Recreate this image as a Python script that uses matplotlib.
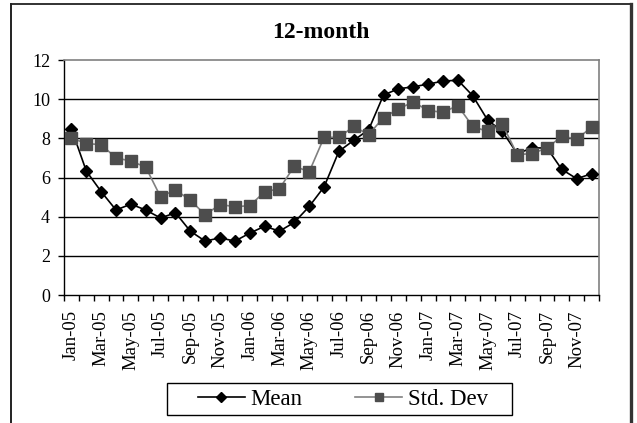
import matplotlib
matplotlib.use("Agg")
import matplotlib.pyplot as plt
from matplotlib.patches import Rectangle
from matplotlib.lines import Line2D

plt.rcParams['font.family'] = ['Liberation Serif', 'DejaVu Serif']

months = ["Jan-05", "Feb-05", "Mar-05", "Apr-05", "May-05", "Jun-05", "Jul-05", "Aug-05",
          "Sep-05", "Oct-05", "Nov-05", "Dec-05", "Jan-06", "Feb-06", "Mar-06", "Apr-06",
          "May-06", "Jun-06", "Jul-06", "Aug-06", "Sep-06", "Oct-06", "Nov-06", "Dec-06",
          "Jan-07", "Feb-07", "Mar-07", "Apr-07", "May-07", "Jun-07", "Jul-07", "Aug-07",
          "Sep-07", "Oct-07", "Nov-07", "Dec-07"]

mean = [8.49, 6.33, 5.28, 4.34, 4.64, 4.34, 3.93, 4.20, 3.26, 2.75, 2.92, 2.75,
        3.16, 3.51, 3.26, 3.71, 4.52, 5.52, 7.34, 7.90, 8.44, 10.21, 10.53, 10.63,
        10.77, 10.92, 10.97, 10.18, 8.94, 8.35, 7.22, 7.51, 7.51, 6.41, 5.94, 6.19]

std_dev = [8.02, 7.73, 7.68, 7.00, 6.84, 6.53, 5.01, 5.37, 4.84, 4.10, 4.62, 4.51,
           4.56, 5.27, 5.43, 6.58, 6.29, 8.05, 8.05, 8.61, 8.19, 9.06, 9.50, 9.86,
           9.42, 9.33, 9.67, 8.61, 8.35, 8.72, 7.17, 7.22, 7.51, 8.10, 7.97, 8.56]

y_ticks = [0, 2, 4, 6, 8, 10, 12]
title = "12-month"
series_names = ["Mean", "Std. Dev"]

W, H = 637, 423
fig = plt.figure(figsize=(W / 100, H / 100), dpi=100)
ax = fig.add_axes([64 / W, 1 - 295 / H, (599 - 64) / W, (295 - 60) / H])

x = list(range(len(months)))

for yv in y_ticks[1:-1]:
    ax.axhline(yv, color='black', lw=1.0, zorder=1)

l1, = ax.plot(x, mean, color='black', lw=1.2, marker='D', markersize=6,
              markerfacecolor='black', markeredgecolor='black', zorder=3)
l2, = ax.plot(x, std_dev, color='#808080', lw=1.2, marker='s', markersize=8,
              markerfacecolor='#4d4d4d', markeredgecolor='#4d4d4d', zorder=4)

ax.set_xlim(-0.5, len(months) - 0.5)
ax.set_ylim(0, 12)
ax.set_yticks(y_ticks)
ax.set_yticklabels([str(v) for v in y_ticks], fontsize=13)

ax.set_xticks([i - 0.5 for i in range(len(months) + 1)])
ax.set_xticklabels([])
ax.set_xticks(x[::2], minor=True)
ax.set_xticklabels(months[::2], minor=True, rotation=90, fontsize=13.5)
ax.tick_params(axis='x', which='major', direction='out', length=4, width=1, color='black')
ax.tick_params(axis='x', which='minor', length=0, pad=11)
ax.tick_params(axis='y', direction='out', length=4, width=1, pad=6, color='black')

for s in ['top', 'right']:
    ax.spines[s].set_color('#808080')
    ax.spines[s].set_linewidth(1.2)
ax.spines['left'].set_color('black')
ax.spines['bottom'].set_color('black')
ax.spines['left'].set_linewidth(1.0)
ax.spines['bottom'].set_linewidth(1.0)

fig.text(321 / W, 1 - 33 / H, title, ha='center', va='center',
         fontsize=17, fontweight='bold')

# outer chart border (bottom edge cropped)
fig.add_artist(Line2D([11 / W, 11 / W], [0, 1 - 4 / H], transform=fig.transFigure,
                      color='#111111', lw=1.3))
fig.add_artist(Line2D([11 / W, 631 / W], [1 - 4 / H, 1 - 4 / H], transform=fig.transFigure,
                      color='#222222', lw=1.3))
fig.add_artist(Line2D([631 / W, 631 / W], [0, 1 - 4 / H], transform=fig.transFigure,
                      color='#333333', lw=2.4))

# legend frame
fig.patches.append(Rectangle((167 / W, 1 - 415 / H), (512 - 167) / W, (415 - 383) / H,
                             transform=fig.transFigure, fill=False,
                             edgecolor='black', lw=1.0))

fig.legend([l1, l2], series_names, loc='center', ncol=2,
           bbox_to_anchor=(343 / W, 1 - 399 / H), frameon=False,
           fontsize=16.5, handlelength=2.05, handletextpad=0.25,
           columnspacing=2.3, borderpad=0, markerscale=0.8)

fig.savefig("out.png", dpi=100)
